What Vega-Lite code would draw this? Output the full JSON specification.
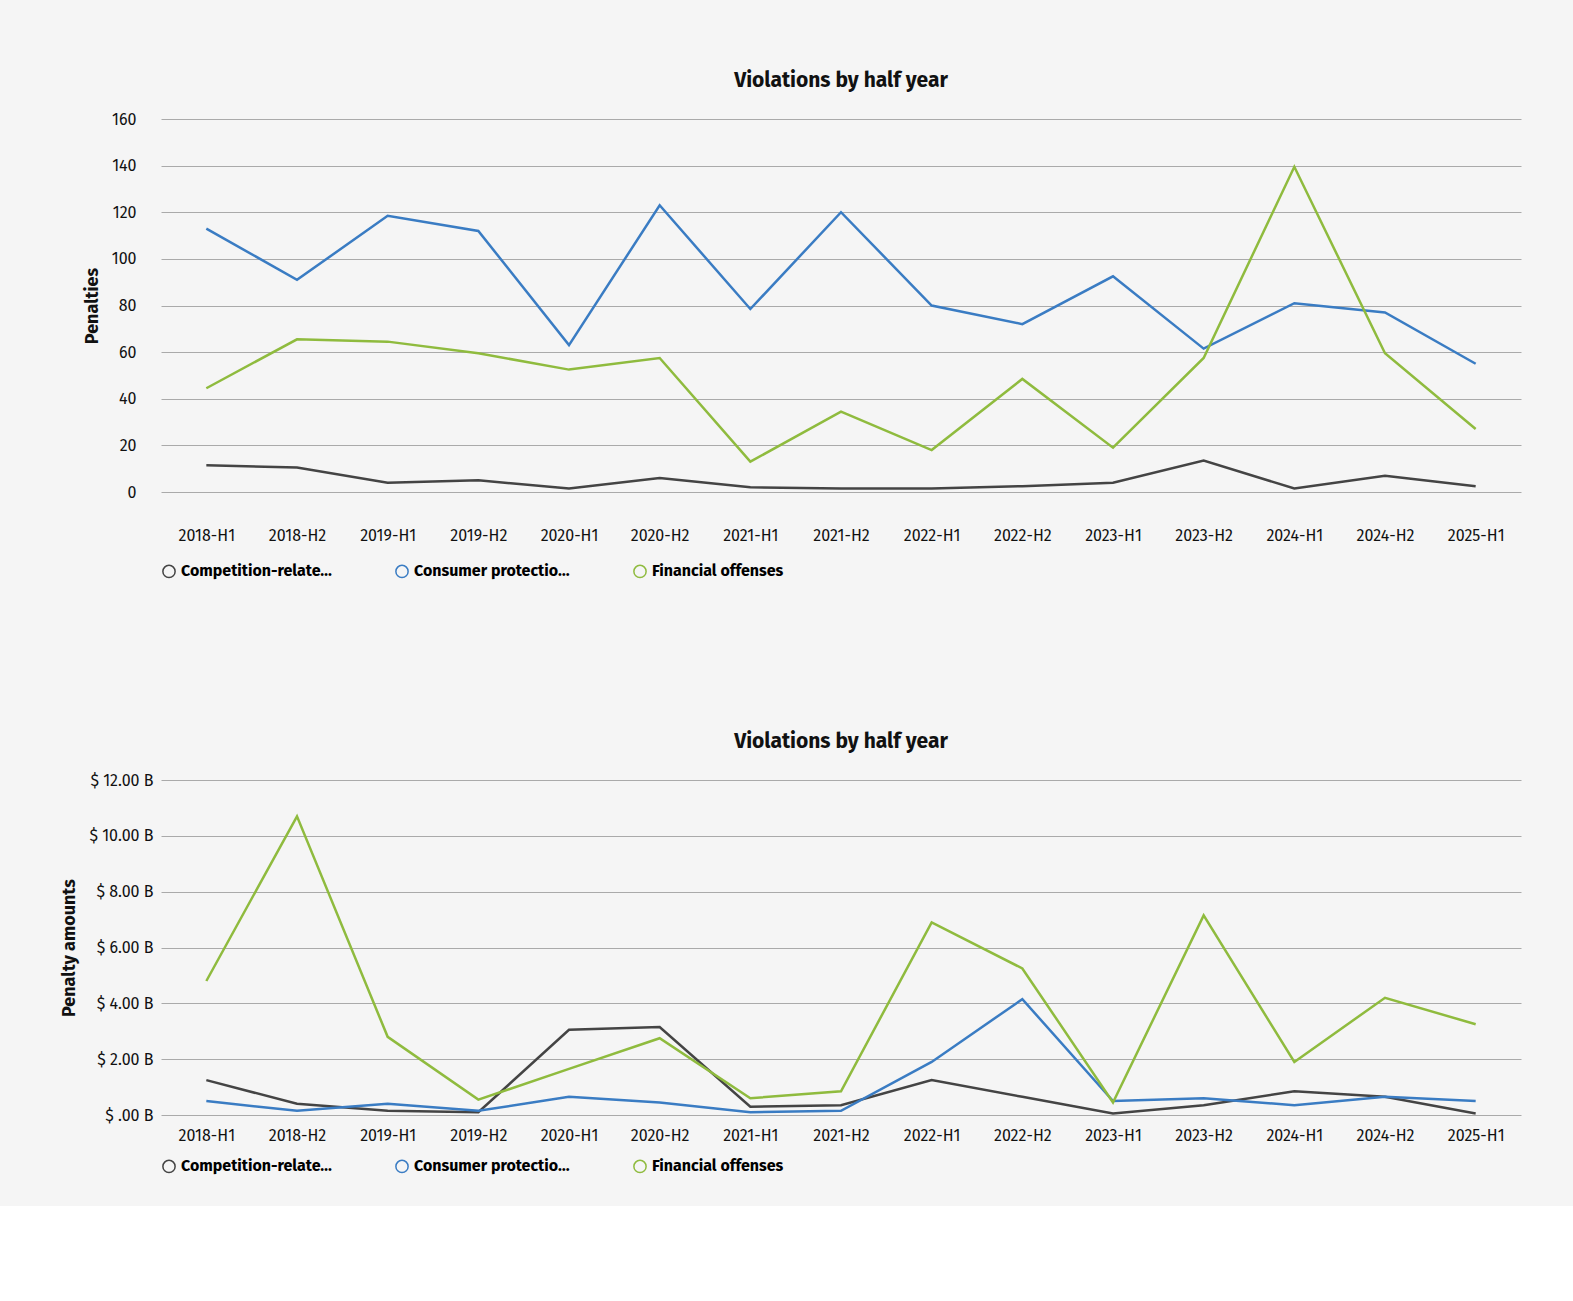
{
  "$schema": "https://vega.github.io/schema/vega-lite/v6.json",
  "background": "#f5f5f5",
  "padding": {"left": 60, "top": 70, "right": 60, "bottom": 30},
  "config": {
    "font": "Fira Sans, Noto Sans",
    "view": {"stroke": null},
    "axis": {"labelFontSize": 16, "titleFontSize": 18, "labelColor": "#111", "titleColor": "#111"},
    "title": {"fontSize": 21, "fontWeight": "bold", "color": "#111", "offset": 20},
    "legend": {"orient": "bottom", "labelFontSize": 16, "labelFontWeight": "bold", "symbolType": "circle", "symbolSize": 150, "title": null, "columnPadding": 60, "direction": "horizontal"}
  },
  "data": {"values": [
    {"period":"2018-H1","cat":"Competition-related offenses","n":11.5,"amt":1.25},
    {"period":"2018-H2","cat":"Competition-related offenses","n":10.5,"amt":0.4},
    {"period":"2019-H1","cat":"Competition-related offenses","n":4,"amt":0.15},
    {"period":"2019-H2","cat":"Competition-related offenses","n":5,"amt":0.1},
    {"period":"2020-H1","cat":"Competition-related offenses","n":1.5,"amt":3.05},
    {"period":"2020-H2","cat":"Competition-related offenses","n":6,"amt":3.15},
    {"period":"2021-H1","cat":"Competition-related offenses","n":2,"amt":0.3},
    {"period":"2021-H2","cat":"Competition-related offenses","n":1.5,"amt":0.35},
    {"period":"2022-H1","cat":"Competition-related offenses","n":1.5,"amt":1.25},
    {"period":"2022-H2","cat":"Competition-related offenses","n":2.5,"amt":0.65},
    {"period":"2023-H1","cat":"Competition-related offenses","n":4,"amt":0.05},
    {"period":"2023-H2","cat":"Competition-related offenses","n":13.5,"amt":0.35},
    {"period":"2024-H1","cat":"Competition-related offenses","n":1.5,"amt":0.85},
    {"period":"2024-H2","cat":"Competition-related offenses","n":7,"amt":0.65},
    {"period":"2025-H1","cat":"Competition-related offenses","n":2.5,"amt":0.05},
    {"period":"2018-H1","cat":"Consumer protection-related offenses","n":113,"amt":0.5},
    {"period":"2018-H2","cat":"Consumer protection-related offenses","n":91,"amt":0.15},
    {"period":"2019-H1","cat":"Consumer protection-related offenses","n":118.5,"amt":0.4},
    {"period":"2019-H2","cat":"Consumer protection-related offenses","n":112,"amt":0.15},
    {"period":"2020-H1","cat":"Consumer protection-related offenses","n":63,"amt":0.65},
    {"period":"2020-H2","cat":"Consumer protection-related offenses","n":123,"amt":0.45},
    {"period":"2021-H1","cat":"Consumer protection-related offenses","n":78.5,"amt":0.1},
    {"period":"2021-H2","cat":"Consumer protection-related offenses","n":120,"amt":0.15},
    {"period":"2022-H1","cat":"Consumer protection-related offenses","n":80,"amt":1.9},
    {"period":"2022-H2","cat":"Consumer protection-related offenses","n":72,"amt":4.15},
    {"period":"2023-H1","cat":"Consumer protection-related offenses","n":92.5,"amt":0.5},
    {"period":"2023-H2","cat":"Consumer protection-related offenses","n":61.5,"amt":0.6},
    {"period":"2024-H1","cat":"Consumer protection-related offenses","n":81,"amt":0.35},
    {"period":"2024-H2","cat":"Consumer protection-related offenses","n":77,"amt":0.65},
    {"period":"2025-H1","cat":"Consumer protection-related offenses","n":55,"amt":0.5},
    {"period":"2018-H1","cat":"Financial offenses","n":44.5,"amt":4.8},
    {"period":"2018-H2","cat":"Financial offenses","n":65.5,"amt":10.7},
    {"period":"2019-H1","cat":"Financial offenses","n":64.5,"amt":2.8},
    {"period":"2019-H2","cat":"Financial offenses","n":59.5,"amt":0.55},
    {"period":"2020-H1","cat":"Financial offenses","n":52.5,"amt":1.65},
    {"period":"2020-H2","cat":"Financial offenses","n":57.5,"amt":2.75},
    {"period":"2021-H1","cat":"Financial offenses","n":13,"amt":0.6},
    {"period":"2021-H2","cat":"Financial offenses","n":34.5,"amt":0.85},
    {"period":"2022-H1","cat":"Financial offenses","n":18,"amt":6.9},
    {"period":"2022-H2","cat":"Financial offenses","n":48.5,"amt":5.25},
    {"period":"2023-H1","cat":"Financial offenses","n":19,"amt":0.45},
    {"period":"2023-H2","cat":"Financial offenses","n":57.5,"amt":7.15},
    {"period":"2024-H1","cat":"Financial offenses","n":139.5,"amt":1.9},
    {"period":"2024-H2","cat":"Financial offenses","n":59.5,"amt":4.2},
    {"period":"2025-H1","cat":"Financial offenses","n":27,"amt":3.25}
  ]},
  "spacing": 150,
  "vconcat": [
    {
      "title": "Violations by half year",
      "width": 1360,
      "height": 373,
      "mark": {"type": "line", "strokeWidth": 2.5},
      "encoding": {
        "x": {"field": "period", "type": "ordinal", "title": null, "scale": {"type": "point", "padding": 0.5},
          "axis": {"labelAngle": 0, "ticks": false, "domain": false, "labelPadding": 35}},
        "y": {"field": "n", "type": "quantitative", "title": "Penalties", "scale": {"domain": [0, 160]},
          "axis": {"tickCount": 8, "ticks": false, "domain": false, "gridColor": "#aaa", "labelPadding": 25, "titlePadding": 10}},
        "color": {"field": "cat", "type": "nominal",
          "scale": {"range": ["#444444", "#3a7cc3", "#8fbb3e"]},
          "legend": {"offset": 20}}
      }
    },
    {
      "title": "Violations by half year",
      "width": 1360,
      "height": 335,
      "mark": {"type": "line", "strokeWidth": 2.5},
      "encoding": {
        "x": {"field": "period", "type": "ordinal", "title": null, "scale": {"type": "point", "padding": 0.5},
          "axis": {"labelAngle": 0, "ticks": false, "domain": false, "labelPadding": 12}},
        "y": {"field": "amt", "type": "quantitative", "title": "Penalty amounts", "scale": {"domain": [0, 12]},
          "axis": {"values": [0, 2, 4, 6, 8, 10, 12], "ticks": false, "domain": false, "gridColor": "#aaa", "labelPadding": 8, "titlePadding": 10,
            "labelExpr": "datum.value == 0 ? '$ .00 B' : '$ ' + format(datum.value, '.2f') + ' B'"}},
        "color": {"field": "cat", "type": "nominal",
          "scale": {"range": ["#444444", "#3a7cc3", "#8fbb3e"]},
          "legend": {"offset": 15}}
      }
    }
  ],
  "resolve": {"legend": {"color": "independent"}}
}
